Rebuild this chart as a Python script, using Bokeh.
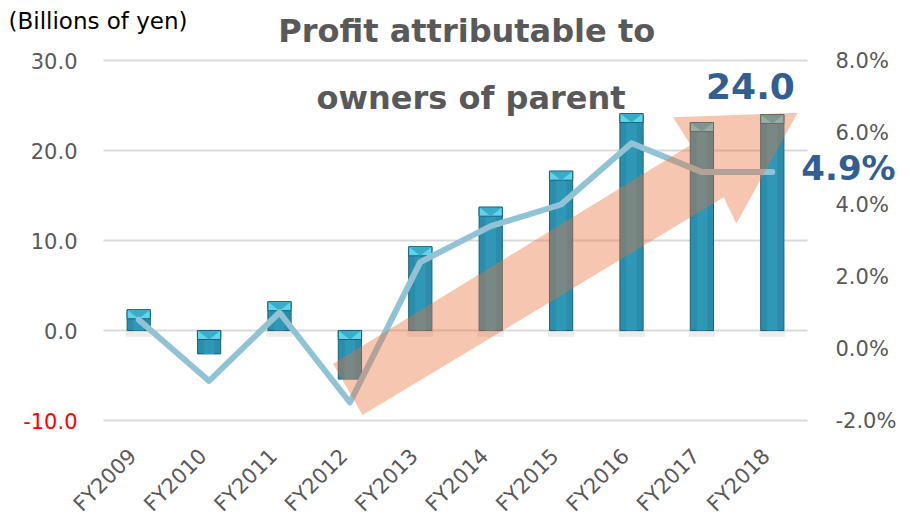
import math
from bokeh.plotting import figure
from bokeh.models import Range1d, Label
from bokeh.embed import file_html
from bokeh.resources import INLINE

# ---- data ----
years = ["FY2009", "FY2010", "FY2011", "FY2012", "FY2013",
         "FY2014", "FY2015", "FY2016", "FY2017", "FY2018"]
profit = [2.3, -2.6, 3.2, -5.4, 9.3, 13.7, 17.7, 24.1, 23.1, 24.0]   # billions of yen
margin = [0.8, -0.9, 1.0, -1.5, 2.4, 3.4, 4.0, 5.7, 4.9, 4.9]        # %
left_ticks = [-10, 0, 10, 20, 30]
left_labels = ["-10.0", "0.0", "10.0", "20.0", "30.0"]
right_ticks = [-2, 0, 2, 4, 6, 8]
right_labels = ["-2.0%", "0.0%", "2.0%", "4.0%", "6.0%", "8.0%"]
# decorative trend arrow (data coordinates: x = category index, y = billions of yen)
arrow_x = [2.76, 7.84, 7.59, 9.36, 8.49, 8.31, 3.18]
arrow_y = [-3.7, 20.6, 23.7, 24.2, 11.9, 14.8, -9.4]

idx = list(range(len(years)))

# plot box spans x -0.5..9.5 and y -10..30 (left) / -2..8 % (right);
# the drawing area extends beyond it so the surrounding texts are not clipped
px_per_cat = 70.4
px_per_unit = 9.0
pad_side, pad_top, pad_bottom = 103, 60, 97
x0 = -0.5 - pad_side / px_per_cat
x1 = 9.5 + pad_side / px_per_cat
y0 = -10 - pad_bottom / px_per_unit
y1 = 30 + pad_top / px_per_unit
q0 = -2 - pad_bottom / (px_per_unit * 4)
q1 = 8 + pad_top / (px_per_unit * 4)

p = figure(width=910, height=517, output_backend="svg", toolbar_location=None,
           x_range=Range1d(x0, x1), y_range=Range1d(y0, y1),
           x_axis_location=None, y_axis_location=None,
           min_border_left=0, min_border_right=0, min_border_top=0, min_border_bottom=0)
p.extra_y_ranges = {"pct": Range1d(q0, q1)}
p.outline_line_color = None
p.background_fill_color = "white"
p.border_fill_color = "white"
p.grid.visible = False

# horizontal gridlines across the plot box
p.segment(x0=[-0.5] * len(left_ticks), x1=[9.5] * len(left_ticks),
          y0=left_ticks, y1=left_ticks, line_color="#d9d9d9", line_width=2)

# y tick labels (left: billions of yen, right: %)
for t, s in zip(left_ticks, left_labels):
    p.add_layout(Label(x=-0.5, y=t, x_offset=-26, text=s, text_align="right",
                       text_baseline="middle",
                       text_color="#ff0000" if t < 0 else "#595959",
                       text_font="DejaVu Sans", text_font_size="21px"))
for t, s in zip(right_ticks, right_labels):
    p.add_layout(Label(x=9.5, y=t, y_range_name="pct", x_offset=28, text=s,
                       text_align="left", text_baseline="middle", text_color="#595959",
                       text_font="DejaVu Sans", text_font_size="21px"))

# category labels, rotated 45 degrees
for i, s in zip(idx, years):
    p.add_layout(Label(x=i, y=left_ticks[0], x_offset=-6, y_offset=-32, text=s,
                       angle=math.pi / 4, text_align="right", text_baseline="middle",
                       text_color="#595959", text_font="DejaVu Sans",
                       text_font_size="21px"))

# bars
w = 0.33
cap_h = 1.0
tops = [max(v, 0) for v in profit]
bottoms = [min(v, 0) for v in profit]
p.vbar(x=idx, top=0, bottom=-0.7, width=w + 0.04, fill_color="#808080",
       fill_alpha=0.15, line_color=None)
p.vbar(x=idx, top=tops, bottom=bottoms, width=w, fill_color="#2a8dab",
       line_color="#1b6278", line_width=1)
p.vbar(x=idx, top=tops, bottom=bottoms, width=w * 0.45, fill_color="#3098b6",
       line_color=None)
p.vbar(x=idx, top=tops, bottom=[t - cap_h for t in tops], width=w,
       fill_color="#5fd4ec", line_color="#1b6278", line_width=1)
p.patches(xs=[[i - w / 2 + 0.01, i + w / 2 - 0.01, i] for i in idx],
          ys=[[t - 0.05, t - 0.05, t - cap_h] for t in tops],
          fill_color="#38adca", line_color=None)

# margin line
p.line(idx, margin, y_range_name="pct", line_width=6, line_color="#92c3d5",
       line_join="round", line_cap="round")

# arrow overlay
p.patch(arrow_x, arrow_y, fill_color="#e8703a", fill_alpha=0.4, line_color=None)

# texts
p.add_layout(Label(x=-0.5, y=30, x_offset=-95, y_offset=40, text="(Billions of yen)",
                   text_align="left", text_baseline="middle", text_color="#000000",
                   text_font="DejaVu Sans", text_font_size="23px"))
p.add_layout(Label(x=4.66, y=30, y_offset=30, text="Profit attributable to",
                   text_align="center", text_baseline="middle", text_color="#595959",
                   text_font="DejaVu Sans", text_font_style="bold", text_font_size="32px"))
p.add_layout(Label(x=4.72, y=30, y_offset=-37, text="owners of parent",
                   text_align="center", text_baseline="middle", text_color="#595959",
                   text_font="DejaVu Sans", text_font_style="bold", text_font_size="32px"))
p.add_layout(Label(x=8.69, y=profit[-1], y_offset=29, text=f"{profit[-1]:.1f}",
                   text_align="center", text_baseline="middle", text_color="#335e93",
                   text_font="DejaVu Sans", text_font_style="bold", text_font_size="36px"))
p.add_layout(Label(x=9.5, y=margin[-1], y_range_name="pct", x_offset=41, y_offset=4,
                   text=f"{margin[-1]:.1f}%", text_align="center", text_baseline="middle",
                   text_color="#335e93", text_font="DejaVu Sans", text_font_style="bold",
                   text_font_size="34px"))

open("out.html", "w").write(file_html(p, INLINE))
